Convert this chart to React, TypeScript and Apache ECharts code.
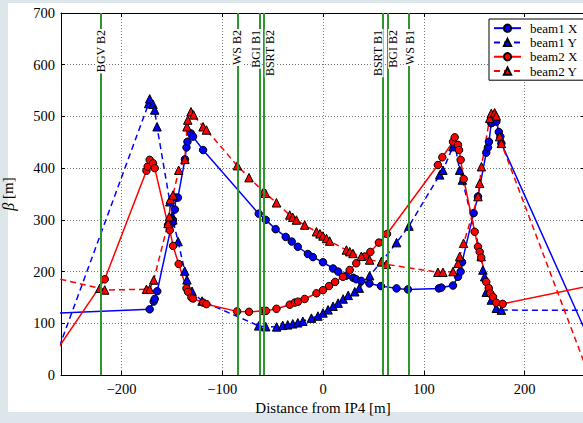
import React, { useEffect, useRef } from "react";
import * as echarts from "echarts";

// ---- Data (x = distance from IP4 [m], y = beta [m]) ----
const beam1X: [number, number][] = [
  [-300, 117], [-172, 127], [-168, 142], [-167, 147], [-164.5, 162], [-150, 293], [-149, 300],
  [-147, 320], [-146, 343], [-144, 343], [-137, 417], [-135.5, 440], [-134.5, 451], [-131, 467],
  [-129, 461], [-119, 435], [-63.8, 312], [-56.8, 300], [-47, 282], [-37, 267], [-31, 258],
  [-25, 248], [-15, 234], [-10, 228], [0, 218], [10, 206], [15, 200], [23, 192], [30, 188],
  [33, 185], [38, 182], [46, 177], [57.5, 172], [73, 167.5], [84.3, 165.5], [115, 167.5],
  [117.5, 169], [129, 173], [134, 190], [136.6, 200], [138, 218], [149.5, 313], [153.8, 345],
  [162, 430], [163.7, 440], [164.7, 451], [167, 487], [168, 488], [172, 490], [174.5, 470],
  [176, 461], [177, 448], [270, 43],
];

const beam1Y: [number, number][] = [
  [-272, 0], [-173, 525], [-172, 534], [-168.7, 523.5], [-167, 512.5], [-164.7, 480], [-152, 335],
  [-149.4, 306], [-149, 300], [-143.8, 258], [-137.2, 201], [-135, 184], [-130, 162], [-120, 143],
  [-63.8, 95], [-56.8, 93.4], [-46, 93], [-40, 96], [-35, 97], [-30, 99], [-25, 101], [-20, 104],
  [-11.5, 110], [-5, 114], [0, 120], [5, 126], [10, 133], [15, 139], [20, 147], [25, 154],
  [31.5, 161], [36, 168], [46.3, 192], [58, 219], [73, 256], [85.3, 288], [115.8, 387], [119, 396],
  [129, 441.5], [130.7, 448], [135.6, 396], [138.3, 377], [157, 229], [158.7, 203], [160.4, 190],
  [162, 160], [167, 145], [172, 129], [177, 125.5], [300, 125],
];

const beam2X: [number, number][] = [
  [-275, 17], [-216.6, 185], [-175.2, 395], [-174, 403], [-172, 416], [-168.7, 409.5], [-167, 400],
  [-153.8, 290], [-152, 280], [-148.8, 249.5], [-143.2, 214.7], [-135.5, 167.7], [-134, 161],
  [-130.6, 150], [-129, 148], [-119, 140], [-115.7, 137], [-85.2, 123], [-73.4, 122.2], [-59.5, 123.7],
  [-56.5, 124], [-46.2, 128], [-33, 136], [-28, 140], [-24.8, 141.8], [-18.2, 147], [-6.5, 158],
  [0, 164], [6, 172], [12, 180], [19.8, 190], [26.5, 203], [33, 216], [41.4, 229], [47, 238],
  [55.5, 256], [63.5, 272.7], [114, 406], [118.4, 421], [129, 451], [130.7, 459.6], [134, 445],
  [135, 435], [136.6, 416], [139.6, 379], [150.5, 277], [153.8, 248], [155.5, 238], [157, 227],
  [162, 180], [164.5, 168], [166, 158], [168.7, 151], [172, 139.8], [178.3, 137.5], [300, 186.5],
];

const beam2Y: [number, number][] = [
  [-280, 194], [-221.5, 167.7], [-216.6, 164.4], [-175.2, 165.7], [-172, 165.7], [-168, 183.7],
  [-153.8, 293], [-152.5, 306], [-151.5, 340], [-148.8, 348], [-143.2, 396], [-137, 417], [-135, 480],
  [-134.2, 493], [-131, 509], [-128.5, 503], [-119, 480], [-115.7, 473.8], [-85, 404.8], [-73.4, 381.6],
  [-58.8, 354.5], [-57.1, 351.4], [-46.2, 333], [-33, 309.4], [-30, 305], [-26.4, 299.7], [-18.2, 290],
  [-6.5, 277], [-3, 273], [0, 268.8], [3.5, 264], [6.6, 259], [23.2, 241.7], [26.5, 238.5], [29.8, 235],
  [38, 229.5], [46.3, 222.4], [58, 219], [62.9, 214], [114, 198.6], [119, 198.6], [129, 200], [134, 216],
  [135.6, 229], [139.5, 254.7], [153.8, 345], [155.5, 370.7], [157.2, 402.8], [165.4, 496.4], [167, 506],
  [170.3, 507], [172, 501], [175.3, 461], [177, 448], [265, -6],
];

const instrumentNames = ["BGV B2", "WS B2", "BGI B1", "BSRT B2", "BSRT B1", "BGI B2", "WS B1"];
const instrumentPositions = [-221, -85, -62.5, -59, 59, 64, 85];
const instrumentLabelPositions = [-220.5, -85.1, -66.3, -52.4, 54.6, 69.9, 86.8];

const seriesNames = ["beam1 X", "beam1 Y", "beam2 X", "beam2 Y"];

const SERIF = "'Liberation Serif', 'DejaVu Serif', 'Times New Roman', serif";
const BLUE = "#0000ff";
const RED = "#ff0000";
const GREEN = "#2e962e";

function dataSeries(name: string, data: [number, number][], color: string, dashed: boolean, symbol: string) {
  return {
    name,
    type: "line",
    data,
    symbol,
    symbolSize: symbol === "triangle" ? 8.5 : 7.5,
    showSymbol: true,
    showAllSymbol: true,
    clip: true,
    z: 3,
    lineStyle: { color, width: 1.5, type: dashed ? [6, 4] : "solid" },
    itemStyle: { color, borderColor: "#000", borderWidth: 1 },
    emphasis: { disabled: true },
  };
}

export default function App() {
  const ref = useRef<HTMLDivElement>(null);
  useEffect(() => {
    const chart = echarts.init(ref.current!, null, { renderer: "svg" });
    const fmt = (v: number) => String(v).replace("-", "\u2212");
    const option: any = {
      animation: false,
      grid: { left: 61, top: 13, width: 524, height: 362, containLabel: false, outerBoundsMode: "none" },
      legend: {
        data: seriesNames,
        orient: "vertical",
        left: 489,
        top: 19,
        itemWidth: 27,
        itemHeight: 9,
        itemGap: 0,
        padding: [2, 10, 2, 4],
        borderColor: "#000",
        borderWidth: 1,
        borderRadius: 0,
        backgroundColor: "#fff",
        textStyle: { fontFamily: SERIF, fontSize: 13, color: "#000", lineHeight: 14.3, padding: [0, 0, 0, 4] },
      },
      xAxis: [
        {
          type: "value",
          min: -260,
          max: 260,
          splitNumber: 5,
          minInterval: 100,
          maxInterval: 100,
          position: "bottom",
          name: "Distance from IP4 [m]",
          nameLocation: "middle",
          nameGap: 23,
          nameTextStyle: { fontFamily: SERIF, fontSize: 15, color: "#000" },
          axisLine: { show: true, onZero: false, lineStyle: { color: "#000", width: 1 } },
          axisTick: { show: true, inside: true, length: 4, lineStyle: { color: "#000" } },
          axisLabel: {
            show: true, margin: 6, showMinLabel: false, showMaxLabel: false,
            fontFamily: SERIF, fontSize: 14.5, color: "#000", formatter: fmt,
          },
          splitLine: { show: true, lineStyle: { color: "#777", width: 1, type: [1, 2] } },
        },
        {
          type: "value",
          min: -260,
          max: 260,
          splitNumber: 5,
          minInterval: 100,
          maxInterval: 100,
          position: "top",
          axisLine: { show: true, onZero: false, lineStyle: { color: "#000", width: 1 } },
          axisTick: { show: true, inside: true, length: 4, lineStyle: { color: "#000" } },
          axisLabel: { show: false },
          splitLine: { show: false },
        },
      ],
      yAxis: [
        {
          type: "value",
          min: 0,
          max: 700,
          interval: 100,
          position: "left",
          name: "{i|\u03b2} [m]",
          nameLocation: "middle",
          nameGap: 45,
          nameTextStyle: {
            fontFamily: SERIF, fontSize: 15, color: "#000",
            rich: { i: { fontFamily: SERIF, fontSize: 16, fontStyle: "italic", color: "#000" } },
          },
          axisLine: { show: true, onZero: false, lineStyle: { color: "#000", width: 1 } },
          axisTick: { show: true, inside: true, length: 4, lineStyle: { color: "#000" } },
          axisLabel: { show: true, margin: 6, fontFamily: SERIF, fontSize: 14.5, color: "#000", formatter: fmt },
          splitLine: { show: true, lineStyle: { color: "#777", width: 1, type: [1, 2] } },
        },
        {
          type: "value",
          min: 0,
          max: 700,
          interval: 100,
          position: "right",
          axisLine: { show: true, onZero: false, lineStyle: { color: "#000", width: 1 } },
          axisTick: { show: true, inside: true, length: 4, lineStyle: { color: "#000" } },
          axisLabel: { show: false },
          splitLine: { show: false },
        },
      ],
      series: [
        {
          name: "instrument lines",
          type: "line",
          data: [],
          silent: true,
          z: 1,
          markLine: {
            silent: true,
            animation: false,
            symbol: ["none", "none"],
            lineStyle: { color: GREEN, width: 2, type: "solid" },
            emphasis: { disabled: true },
            label: { show: false },
            data: instrumentNames.map((n, i) => ({ name: n, xAxis: instrumentPositions[i] })),
          },
        },
        {
          name: "instrument labels",
          type: "line",
          data: [],
          silent: true,
          z: 2,
          markLine: {
            silent: true,
            animation: false,
            symbol: ["none", "none"],
            lineStyle: { color: "rgba(0,0,0,0)", width: 1, type: "solid" },
            emphasis: { disabled: true },
            label: {
              show: true,
              position: "insideEnd",
              distance: 16,
              formatter: "{b}",
              fontFamily: SERIF,
              fontSize: 12,
              lineHeight: 11,
              color: "#000",
              backgroundColor: "#fff",
              padding: [0, 1, 0, 1],
            },
            data: instrumentNames.map((n, i) => ({ name: n, xAxis: instrumentLabelPositions[i] })),
          },
        },
        dataSeries(seriesNames[0], beam1X, BLUE, false, "circle"),
        dataSeries(seriesNames[1], beam1Y, BLUE, true, "triangle"),
        dataSeries(seriesNames[2], beam2X, RED, false, "circle"),
        dataSeries(seriesNames[3], beam2Y, RED, true, "triangle"),
      ],
    };
    chart.setOption(option);
    return () => chart.dispose();
  }, []);

  return (
    <div style={{ position: "fixed", left: 0, top: 0, width: 583, height: 423, background: "#dde6ea", overflow: "hidden" }}>
      <div style={{ position: "absolute", left: 8, top: 3, right: 0, bottom: 11, background: "#fff" }} />
      <div ref={ref} style={{ position: "absolute", left: 0, top: 0, width: 583, height: 423 }} />
    </div>
  );
}
